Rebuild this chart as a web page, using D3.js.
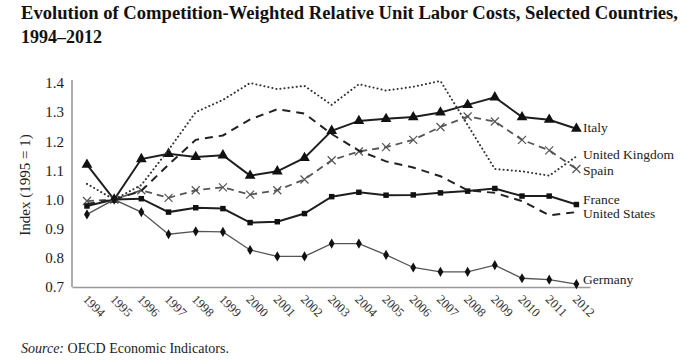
<!DOCTYPE html>
<html>
<head>
<meta charset="utf-8">
<script src="https://cdnjs.cloudflare.com/ajax/libs/d3/7.8.5/d3.min.js"></script>
<style>
  body { margin: 0; background: #fff; }
  svg { display: block; }
  svg text { font-family: "Liberation Serif", "DejaVu Serif", serif; }
</style>
</head>
<body>
<script>
// data
var years = d3.range(1994, 2013);
var yTicks = [0.7, 0.8, 0.9, 1.0, 1.1, 1.2, 1.3, 1.4];

var italy   = [1.12, 1.00, 1.139, 1.157, 1.146, 1.152, 1.082, 1.097, 1.143, 1.236, 1.27, 1.277, 1.283, 1.299, 1.325, 1.351, 1.283, 1.274, 1.243];
var uk      = [1.054, 1.00, 1.05, 1.17, 1.30, 1.342, 1.40, 1.379, 1.39, 1.325, 1.396, 1.374, 1.387, 1.407, 1.256, 1.105, 1.097, 1.082, 1.148];
var spain   = [0.995, 1.00, 1.032, 1.006, 1.032, 1.042, 1.017, 1.032, 1.069, 1.135, 1.165, 1.18, 1.205, 1.249, 1.285, 1.268, 1.205, 1.169, 1.105];
var france  = [0.978, 1.00, 1.003, 0.957, 0.972, 0.969, 0.921, 0.924, 0.952, 1.01, 1.025, 1.015, 1.016, 1.023, 1.029, 1.038, 1.012, 1.012, 0.983];
var us      = [0.985, 1.00, 1.03, 1.12, 1.205, 1.22, 1.275, 1.31, 1.295, 1.225, 1.168, 1.131, 1.11, 1.08, 1.032, 1.023, 0.995, 0.946, 0.957];
var germany = [0.949, 1.00, 0.957, 0.881, 0.891, 0.889, 0.827, 0.805, 0.805, 0.849, 0.849, 0.81, 0.767, 0.752, 0.752, 0.775, 0.73, 0.725, 0.71];

var W = 693, H = 361;
var FONT = "Liberation Serif, DejaVu Serif, serif";
var svg = d3.select("body").append("svg").attr("width", W).attr("height", H);

var x = d3.scaleLinear().domain([1993.45, 2012.5]).range([72, 590]);
var y = d3.scaleLinear().domain([0.7, 1.4]).range([287, 83]);

// title
var title = svg.append("g").attr("font-weight", "bold").attr("fill", "#111").attr("font-size", 18).attr("font-family", FONT);
title.append("text").attr("x", 21).attr("y", 19)
  .attr("textLength", 657).attr("lengthAdjust", "spacingAndGlyphs")
  .text("Evolution of Competition-Weighted Relative Unit Labor Costs, Selected Countries,");
title.append("text").attr("x", 21).attr("y", 43).text("1994\u20132012");

// axes
var yAxis = svg.append("g").attr("transform", "translate(72,0)")
  .call(d3.axisLeft(y).tickValues(yTicks).tickSize(0).tickPadding(8).tickFormat(d3.format(".1f")))
  .attr("font-family", FONT).attr("font-size", 15);
yAxis.select(".domain").attr("d", "M0,80V287").attr("stroke", "#999").attr("stroke-width", 1.6);
yAxis.selectAll("text").attr("fill", "#1a1a1a").attr("font-family", FONT);

var xAxis = svg.append("g").attr("transform", "translate(0,287)")
  .call(d3.axisBottom(x).tickValues(years).tickSize(0).tickFormat(d3.format("d")))
  .attr("font-family", FONT).attr("font-size", 12.5);
xAxis.select(".domain").attr("stroke", "#999").attr("stroke-width", 1.6);
xAxis.selectAll("text")
  .attr("fill", "#333").attr("font-family", FONT)
  .attr("text-anchor", "start").attr("x", 0).attr("y", 0).attr("dy", null)
  .attr("transform", "translate(-5,13) rotate(45)");

svg.append("text")
  .attr("transform", "translate(27,185) rotate(-90)")
  .attr("text-anchor", "middle").attr("dominant-baseline", "middle")
  .attr("font-family", FONT).attr("font-size", 15).attr("fill", "#222")
  .text("Index (1995 = 1)");

// series
var series = [
  { name: "Italy", values: italy, stroke: "#1e1e1e", width: 2, dash: null, marker: "triangle", dy: 0 },
  { name: "United Kingdom", values: uk, stroke: "#333", width: 2, dash: "0.1,4", marker: null, dy: -1 },
  { name: "Spain", values: spain, stroke: "#555", width: 1.8, dash: "7,5", marker: "x", dy: 3 },
  { name: "France", values: france, stroke: "#1e1e1e", width: 2, dash: null, marker: "square", dy: -4 },
  { name: "United States", values: us, stroke: "#222", width: 2, dash: "8,6", marker: null, dy: 3 },
  { name: "Germany", values: germany, stroke: "#555", width: 1.3, dash: null, marker: "diamond", dy: -3 }
];

var line = d3.line().x(function(d, i) { return x(years[i]); }).y(function(d) { return y(d); });

series.forEach(function(s) {
  svg.append("path")
    .attr("d", line(s.values))
    .attr("fill", "none")
    .attr("stroke", s.stroke)
    .attr("stroke-width", s.width)
    .attr("stroke-linecap", s.dash && s.dash.indexOf("0.1") === 0 ? "round" : "butt")
    .attr("stroke-dasharray", s.dash);

  if (s.marker) {
    var g = svg.append("g");
    var pts = g.selectAll("path").data(s.values).enter().append("path")
      .attr("transform", function(d, i) { return "translate(" + x(years[i]) + "," + y(d) + ")"; });
    if (s.marker === "x") {
      pts.attr("d", "M-4,-4L4,4M-4,4L4,-4").attr("stroke", "#555").attr("stroke-width", 1.2).attr("fill", "none");
    } else {
      var sym = s.marker === "triangle" ? d3.symbolTriangle : s.marker === "square" ? d3.symbolSquare : d3.symbolDiamond;
      var size = s.marker === "triangle" ? 50 : 30;
      pts.attr("d", d3.symbol().type(sym).size(size)).attr("fill", "#111");
    }
  }

  var last = s.values[s.values.length - 1];
  svg.append("text")
    .attr("x", 583).attr("y", y(last) + s.dy)
    .attr("dominant-baseline", "middle")
    .attr("font-family", FONT).attr("font-size", 13.5).attr("fill", "#222")
    .text(s.name);
});

// source
var src = svg.append("text").attr("x", 21).attr("y", 353)
  .attr("font-family", FONT).attr("font-size", 14).attr("fill", "#222");
src.append("tspan").attr("font-style", "italic").text("Source:");
src.append("tspan").text(" OECD Economic Indicators.");
</script>
</body>
</html>
